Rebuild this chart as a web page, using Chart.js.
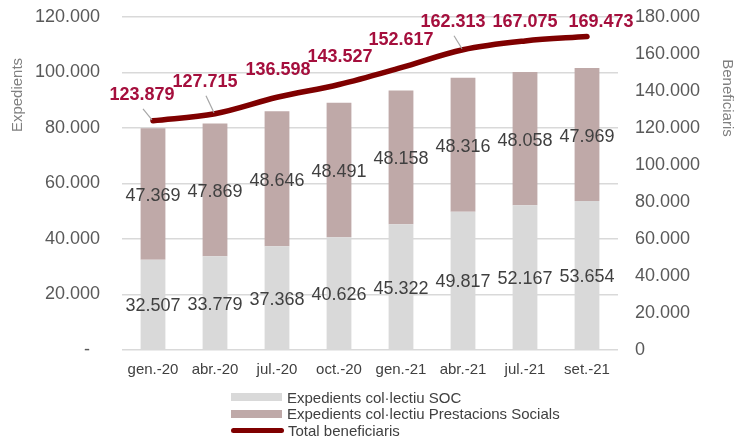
<!DOCTYPE html>
<html>
<head>
<meta charset="utf-8">
<script src="https://cdn.jsdelivr.net/npm/chart.js@4/dist/chart.umd.min.js"></script>
<style>
  html, body { margin: 0; padding: 0; background: #fff; }
  #wrap { position: relative; width: 744px; height: 439px; }
  #legend {
    position: absolute; left: 231px; top: 389px;
    font-family: "Liberation Sans", Arial, sans-serif; font-size: 15px; color: #404040;
  }
  .row { display: flex; align-items: center; height: 16.5px; }
  .sw { width: 51px; height: 8px; margin-right: 5px; }
  .ln { width: 53px; height: 5px; border-radius: 3px; background: #7f0000; margin-right: 4px; }
</style>
</head>
<body>
<div id="wrap">
  <canvas id="chart" width="744" height="439"></canvas>
  <div id="legend">
    <div class="row"><span class="sw" style="background:#d9d9d9"></span>Expedients col·lectiu SOC</div>
    <div class="row"><span class="sw" style="background:#bfa9a8"></span>Expedients col·lectiu Prestacions Socials</div>
    <div class="row"><span class="ln"></span>Total beneficiaris</div>
  </div>
</div>
<script>
const periods = ["gen.-20", "abr.-20", "jul.-20", "oct.-20", "gen.-21", "abr.-21", "jul.-21", "set.-21"];
const expedientsSoc = [32507, 33779, 37368, 40626, 45322, 49817, 52167, 53654];
const expedientsPrestacions = [47369, 47869, 48646, 48491, 48158, 48316, 48058, 47969];
const totalBeneficiaris = [123879, 127715, 136598, 143527, 152617, 162313, 167075, 169473];

// where each line label sits relative to its point, and whether it gets a leader line
const lineLabelOffsets = [[-11, -26, true], [-10, -32, true], [1, -27], [1, -27], [0, -28], [-10, -28, true], [0, -19], [14, -14]];

const FONT = "'Liberation Sans', Arial, sans-serif";

function fmt(v) {
  return String(Math.round(v)).replace(/\B(?=(\d{3})+(?!\d))/g, ".");
}

// axis titles sit near the top of each axis rather than centred
const axisTitlePlugin = {
  id: "axisTitles",
  afterDraw(chart) {
    const ctx = chart.ctx;
    const top = chart.chartArea.top;
    ctx.save();
    ctx.font = "15px " + FONT;
    ctx.fillStyle = "#808080";
    ctx.textAlign = "center";
    ctx.textBaseline = "middle";
    ctx.translate(18, top + 78);
    ctx.rotate(-Math.PI / 2);
    ctx.fillText("Expedients", 0, 0);
    ctx.restore();

    ctx.save();
    ctx.font = "15px " + FONT;
    ctx.fillStyle = "#808080";
    ctx.textAlign = "center";
    ctx.textBaseline = "middle";
    ctx.translate(727, top + 81);
    ctx.rotate(Math.PI / 2);
    ctx.fillText("Beneficiaris", 0, 0);
    ctx.restore();
  }
};

const labelPlugin = {
  id: "valueLabels",
  afterDatasetsDraw(chart) {
    const ctx = chart.ctx;
    ctx.save();
    ctx.textAlign = "center";
    ctx.textBaseline = "middle";

    // stacked bar values, centred inside each segment
    ctx.font = "18px " + FONT;
    ctx.fillStyle = "#404040";
    [0, 1].forEach((di) => {
      chart.getDatasetMeta(di).data.forEach((bar, i) => {
        const mid = (bar.y + bar.base) / 2;
        ctx.fillText(fmt(chart.data.datasets[di].data[i]), bar.x, mid + 2);
      });
    });

    // line values above the points
    const meta = chart.getDatasetMeta(2);
    meta.data.forEach((pt, i) => {
      const [dx, dy, leader] = lineLabelOffsets[i];
      const lx = pt.x + dx;
      const ly = pt.y + dy;
      if (leader) {
        ctx.strokeStyle = "#a6a6a6";
        ctx.lineWidth = 1.2;
        ctx.beginPath();
        ctx.moveTo(lx + 1, ly + 14);
        ctx.lineTo(pt.x - 1, pt.y - 1);
        ctx.stroke();
      }
      ctx.font = "bold 18px " + FONT;
      ctx.fillStyle = "#a50f3d";
      ctx.fillText(fmt(totalBeneficiaris[i]), lx, ly);
    });
    ctx.restore();
  }
};

new Chart(document.getElementById("chart"), {
  data: {
    labels: periods,
    datasets: [
      { type: "bar", label: "Expedients col·lectiu SOC", data: expedientsSoc, backgroundColor: "#d9d9d9", yAxisID: "y", stack: "exp", order: 2 },
      { type: "bar", label: "Expedients col·lectiu Prestacions Socials", data: expedientsPrestacions, backgroundColor: "#bfa9a8", yAxisID: "y", stack: "exp", order: 2 },
      { type: "line", label: "Total beneficiaris", data: totalBeneficiaris, borderColor: "#7f0000", borderWidth: 5.5, borderCapStyle: "round", pointRadius: 0, tension: 0.35, yAxisID: "y1", order: 1 }
    ]
  },
  options: {
    responsive: false,
    animation: false,
    layout: { padding: { top: 17, left: 0, right: 0, bottom: 0 } },
    datasets: { bar: { barPercentage: 0.4, categoryPercentage: 1 } },
    plugins: { legend: { display: false }, tooltip: { enabled: false } },
    scales: {
      x: {
        stacked: true,
        grid: { display: false, drawTicks: false },
        border: { display: false },
        ticks: { color: "#404040", font: { family: FONT, size: 15 }, padding: 11, maxRotation: 0, autoSkip: false },
        afterFit(scale) { scale.height = 89; }
      },
      y: {
        stacked: true,
        position: "left",
        min: 0, max: 120000,
        // invisible tick marks keep the labels clear of the plot without padding the top
        grid: { color: "#d9d9d9", lineWidth: 1.5, drawTicks: true, tickLength: 22, tickColor: "rgba(0,0,0,0)" },
        border: { display: false },
        ticks: {
          stepSize: 20000, padding: 0, color: "#595959", font: { family: FONT, size: 18 },
          callback: (v) => (v === 0 ? "-  " : fmt(v))
        },
        afterFit(scale) { scale.width = 122; }
      },
      y1: {
        position: "right",
        min: 0, max: 180000,
        grid: { display: true, drawOnChartArea: false, drawTicks: true, tickLength: 17, tickColor: "rgba(0,0,0,0)" },
        border: { display: false },
        ticks: { stepSize: 20000, padding: 0, color: "#595959", font: { family: FONT, size: 18 }, callback: (v) => fmt(v) },
        afterFit(scale) { scale.width = 126; }
      }
    }
  },
  plugins: [labelPlugin, axisTitlePlugin]
});
</script>
</body>
</html>
